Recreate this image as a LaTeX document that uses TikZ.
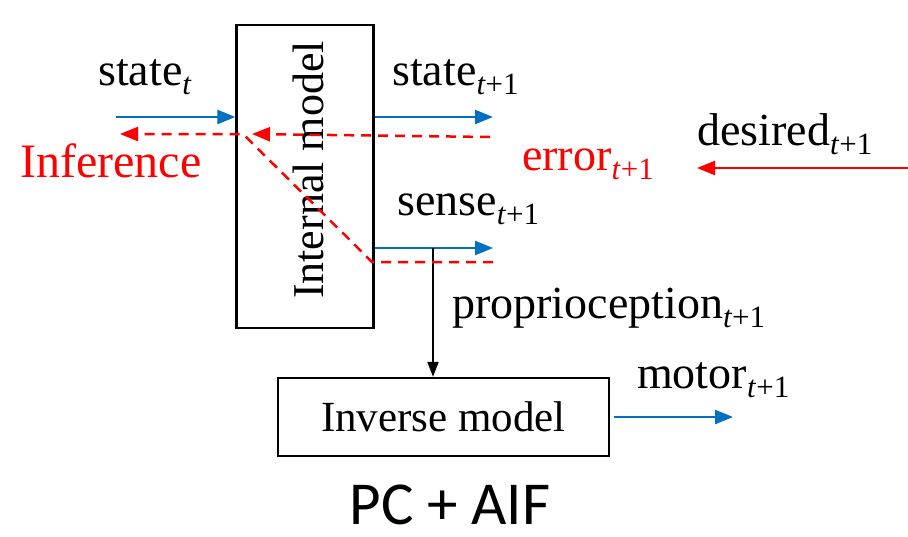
\documentclass[tikz,border=0pt]{standalone}
\usepackage{fontspec}
\setmainfont{Liberation Serif}
\newfontfamily\pcfont{Carlito}
\usetikzlibrary{arrows.meta}
\definecolor{arrblue}{RGB}{0,112,192}
\definecolor{arrred}{RGB}{255,0,0}
\newcommand{\lblsub}[2]{#1\raisebox{-9pt}{\fontsize{31}{31}\selectfont #2}}
\tikzset{
  lbl/.style={anchor=base west, inner sep=0pt, font=\fontsize{46}{50}\selectfont},
  boxnode/.style={draw=black, line width=2.3pt, inner sep=0pt},
  bluearr/.style={draw=arrblue, line width=2.5pt, -{Triangle[length=18pt,width=14pt]}},
  redarr/.style={draw=arrred, line width=2.5pt, -{Triangle[length=18pt,width=14pt]}},
  reddash/.style={draw=arrred, line width=2.5pt, dash pattern=on 10pt off 7pt, -{Triangle[length=18pt,width=14pt]}},
  blackarr/.style={draw=black, line width=2pt, -{Triangle[length=15pt,width=11pt]}}
}
\begin{document}
\begin{tikzpicture}[x=1pt,y=-1pt]
\useasboundingbox (0,0) rectangle (908,536);
% boxes
\node[boxnode, minimum width=137pt, minimum height=303pt] (im) at (305,176.5) {};
\node[rotate=90, font=\fontsize{44}{48}\selectfont, inner sep=0pt] (imtext) at (308,170) {Internal model};
\node[boxnode, minimum width=331pt, minimum height=78pt, font=\fontsize{43}{48}\selectfont] (inv) at (443.5,417) {Inverse model};
% coordinates
\coordinate (sin) at (116,117);
\coordinate (sout) at (493,117);
\coordinate (senseout) at (493,248);
\coordinate (tap) at (433,248);
\coordinate (mout) at (733,417);
\coordinate (inf) at (120,134);
\coordinate (split) at (243,134);
\coordinate (bend) at (372,262);
\coordinate (errin) at (493,262);
\coordinate (stin) at (490,137);
\coordinate (sttip) at (252,134);
\coordinate (desin) at (908,168);
\coordinate (destip) at (697,168);
% arrows
\draw[bluearr] (sin) -- (sin -| im.west);
\draw[bluearr] (sout -| im.east) -- (sout);
\draw[bluearr] (senseout -| im.east) -- (senseout);
\draw[blackarr] (tap) -- (tap |- inv.north);
\draw[bluearr] (mout -| inv.east) ++(4,0) -- (mout);
\draw[reddash] (errin) -- (bend) -- (split) -- (inf);
\draw[reddash] (stin) -- (sttip);
\draw[redarr] (desin) -- (destip);
% labels
\node[lbl] (lstate) at (98,85) {\lblsub{state}{\textit{t}}};
\node[lbl] (lstate1) at (392,85) {\lblsub{state}{\textit{t}+1}};
\node[lbl, text=arrred, font=\fontsize{48}{50}\selectfont] (linf) at (20,177) {Inference};
\node[lbl, text=arrred] (lerr) at (522,170) {\lblsub{error}{\textit{t}+1}};
\node[lbl] (ldes) at (697,145) {\lblsub{desired}{\textit{t}+1}};
\node[lbl] (lsense) at (397,215) {\lblsub{sense}{\textit{t}+1}};
\node[lbl] (lprop) at (452,318) {\lblsub{proprioception}{\textit{t}+1}};
\node[lbl] (lmotor) at (637,388) {\lblsub{motor}{\textit{t}+1}};
\node[anchor=base, inner sep=0pt, text depth=0pt, font=\pcfont\fontsize{61}{62}\selectfont] (title) at (450,524) {PC + AIF};
\end{tikzpicture}
\end{document}
